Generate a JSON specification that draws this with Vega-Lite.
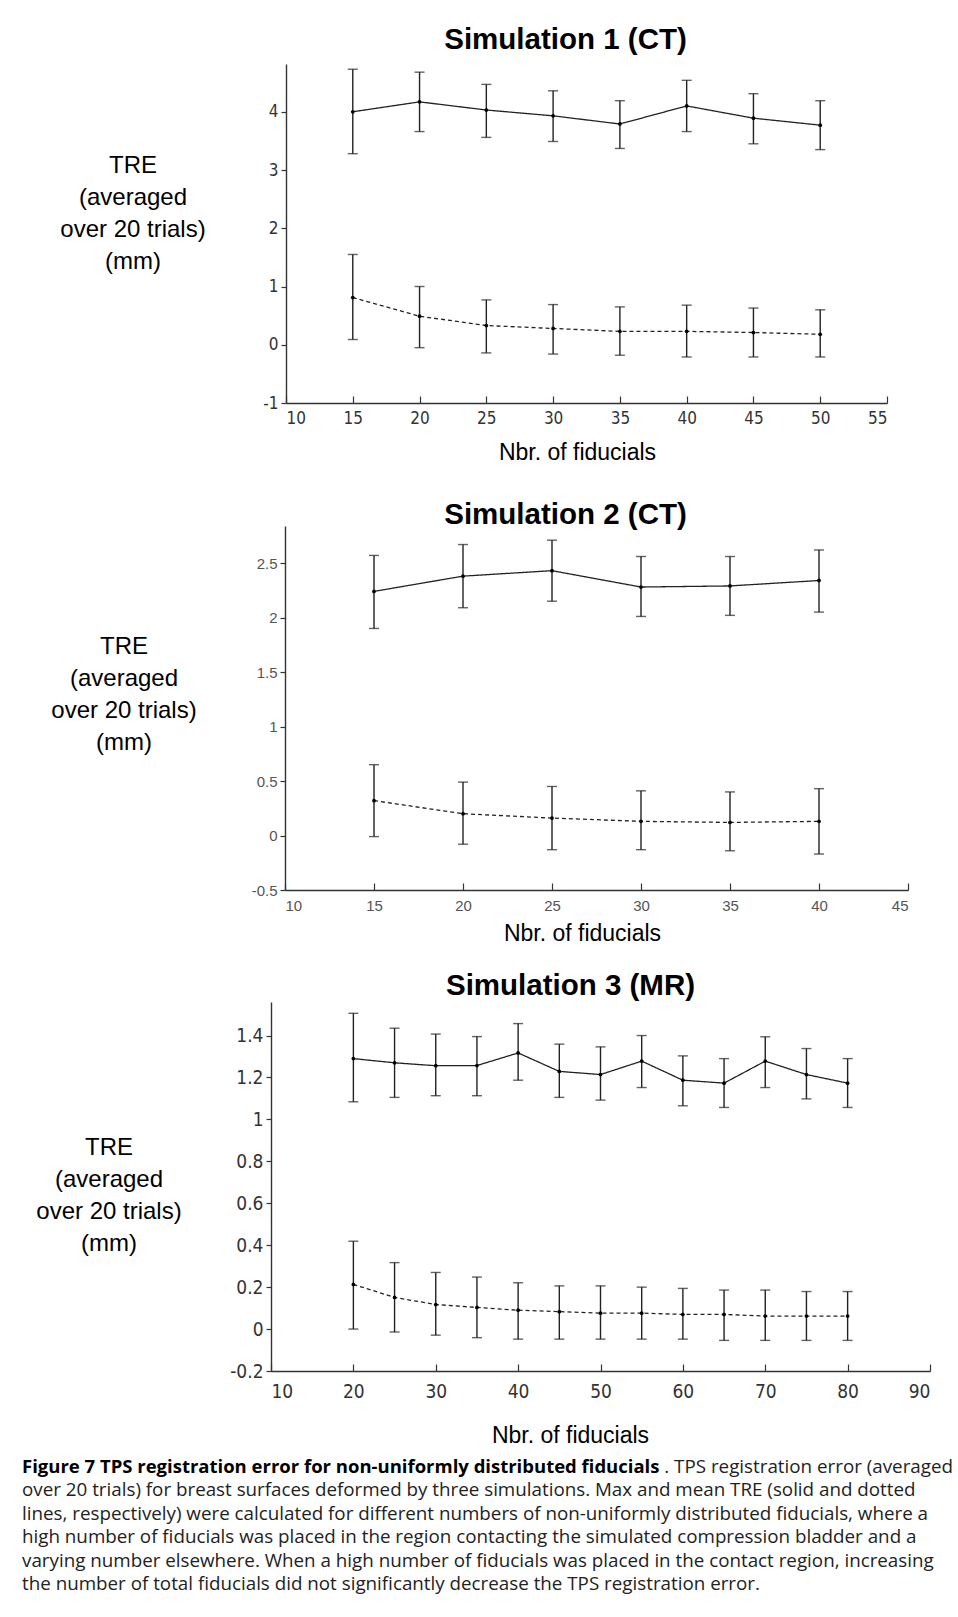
{
  "$schema": "https://vega.github.io/schema/vega-lite/v6.json",
  "background": "white",
  "padding": {"left": 22, "top": 25, "right": 0, "bottom": 0},
  "config": {
    "view": {"stroke": null},
    "font": "Liberation Sans",
    "axis": {
      "grid": false,
      "domainColor": "#333333",
      "domainWidth": 1.4,
      "tickColor": "#333333",
      "tickWidth": 1.2,
      "labelColor": "#333333",
      "labelFont": "Liberation Sans Narrow, DejaVu Sans Condensed, sans-serif",
      "labelFontSize": 17,
      "titleFont": "Liberation Sans",
      "titleFontWeight": "normal",
      "titleColor": "black",
      "titleFontSize": 23
    },
    "title": {"font": "Liberation Sans", "fontSize": 29.5, "fontWeight": "bold", "color": "black"}
  },
  "datasets": {
    "tre": [
      {"sim": 1, "series": "max", "n": 15, "tre": 4.00, "lo": 3.28, "hi": 4.73},
      {"sim": 1, "series": "max", "n": 20, "tre": 4.17, "lo": 3.66, "hi": 4.68},
      {"sim": 1, "series": "max", "n": 25, "tre": 4.03, "lo": 3.56, "hi": 4.47},
      {"sim": 1, "series": "max", "n": 30, "tre": 3.93, "lo": 3.49, "hi": 4.36},
      {"sim": 1, "series": "max", "n": 35, "tre": 3.79, "lo": 3.37, "hi": 4.19},
      {"sim": 1, "series": "max", "n": 40, "tre": 4.10, "lo": 3.66, "hi": 4.54},
      {"sim": 1, "series": "max", "n": 45, "tre": 3.89, "lo": 3.45, "hi": 4.31},
      {"sim": 1, "series": "max", "n": 50, "tre": 3.77, "lo": 3.35, "hi": 4.19},
      {"sim": 1, "series": "mean", "n": 15, "tre": 0.81, "lo": 0.09, "hi": 1.55},
      {"sim": 1, "series": "mean", "n": 20, "tre": 0.49, "lo": -0.05, "hi": 1.00},
      {"sim": 1, "series": "mean", "n": 25, "tre": 0.33, "lo": -0.14, "hi": 0.77},
      {"sim": 1, "series": "mean", "n": 30, "tre": 0.28, "lo": -0.16, "hi": 0.69},
      {"sim": 1, "series": "mean", "n": 35, "tre": 0.23, "lo": -0.18, "hi": 0.65},
      {"sim": 1, "series": "mean", "n": 40, "tre": 0.23, "lo": -0.21, "hi": 0.68},
      {"sim": 1, "series": "mean", "n": 45, "tre": 0.21, "lo": -0.21, "hi": 0.63},
      {"sim": 1, "series": "mean", "n": 50, "tre": 0.18, "lo": -0.21, "hi": 0.60},
      {"sim": 2, "series": "max", "n": 15, "tre": 2.24, "lo": 1.90, "hi": 2.57},
      {"sim": 2, "series": "max", "n": 20, "tre": 2.38, "lo": 2.09, "hi": 2.67},
      {"sim": 2, "series": "max", "n": 25, "tre": 2.43, "lo": 2.15, "hi": 2.71},
      {"sim": 2, "series": "max", "n": 30, "tre": 2.28, "lo": 2.01, "hi": 2.56},
      {"sim": 2, "series": "max", "n": 35, "tre": 2.29, "lo": 2.02, "hi": 2.56},
      {"sim": 2, "series": "max", "n": 40, "tre": 2.34, "lo": 2.05, "hi": 2.62},
      {"sim": 2, "series": "mean", "n": 15, "tre": 0.32, "lo": -0.01, "hi": 0.65},
      {"sim": 2, "series": "mean", "n": 20, "tre": 0.20, "lo": -0.08, "hi": 0.49},
      {"sim": 2, "series": "mean", "n": 25, "tre": 0.16, "lo": -0.13, "hi": 0.45},
      {"sim": 2, "series": "mean", "n": 30, "tre": 0.13, "lo": -0.13, "hi": 0.41},
      {"sim": 2, "series": "mean", "n": 35, "tre": 0.12, "lo": -0.14, "hi": 0.40},
      {"sim": 2, "series": "mean", "n": 40, "tre": 0.13, "lo": -0.17, "hi": 0.43},
      {"sim": 3, "series": "max", "n": 20, "tre": 1.290, "lo": 1.084, "hi": 1.506},
      {"sim": 3, "series": "max", "n": 25, "tre": 1.270, "lo": 1.105, "hi": 1.435},
      {"sim": 3, "series": "max", "n": 30, "tre": 1.256, "lo": 1.113, "hi": 1.407},
      {"sim": 3, "series": "max", "n": 35, "tre": 1.257, "lo": 1.113, "hi": 1.395},
      {"sim": 3, "series": "max", "n": 40, "tre": 1.317, "lo": 1.187, "hi": 1.457},
      {"sim": 3, "series": "max", "n": 45, "tre": 1.229, "lo": 1.105, "hi": 1.359},
      {"sim": 3, "series": "max", "n": 50, "tre": 1.214, "lo": 1.092, "hi": 1.346},
      {"sim": 3, "series": "max", "n": 55, "tre": 1.278, "lo": 1.152, "hi": 1.400},
      {"sim": 3, "series": "max", "n": 60, "tre": 1.187, "lo": 1.065, "hi": 1.303},
      {"sim": 3, "series": "max", "n": 65, "tre": 1.173, "lo": 1.057, "hi": 1.290},
      {"sim": 3, "series": "max", "n": 70, "tre": 1.278, "lo": 1.152, "hi": 1.394},
      {"sim": 3, "series": "max", "n": 75, "tre": 1.214, "lo": 1.098, "hi": 1.338},
      {"sim": 3, "series": "max", "n": 80, "tre": 1.173, "lo": 1.057, "hi": 1.290},
      {"sim": 3, "series": "mean", "n": 20, "tre": 0.213, "lo": 0.000, "hi": 0.419},
      {"sim": 3, "series": "mean", "n": 25, "tre": 0.151, "lo": -0.014, "hi": 0.317},
      {"sim": 3, "series": "mean", "n": 30, "tre": 0.117, "lo": -0.029, "hi": 0.270},
      {"sim": 3, "series": "mean", "n": 35, "tre": 0.103, "lo": -0.041, "hi": 0.248},
      {"sim": 3, "series": "mean", "n": 40, "tre": 0.090, "lo": -0.048, "hi": 0.221},
      {"sim": 3, "series": "mean", "n": 45, "tre": 0.083, "lo": -0.048, "hi": 0.206},
      {"sim": 3, "series": "mean", "n": 50, "tre": 0.076, "lo": -0.048, "hi": 0.206},
      {"sim": 3, "series": "mean", "n": 55, "tre": 0.076, "lo": -0.048, "hi": 0.200},
      {"sim": 3, "series": "mean", "n": 60, "tre": 0.070, "lo": -0.048, "hi": 0.194},
      {"sim": 3, "series": "mean", "n": 65, "tre": 0.070, "lo": -0.054, "hi": 0.186},
      {"sim": 3, "series": "mean", "n": 70, "tre": 0.062, "lo": -0.054, "hi": 0.186},
      {"sim": 3, "series": "mean", "n": 75, "tre": 0.062, "lo": -0.054, "hi": 0.179},
      {"sim": 3, "series": "mean", "n": 80, "tre": 0.062, "lo": -0.054, "hi": 0.179}
    ],
    "ylabel": [
      {"label": ["TRE", "(averaged", "over 20 trials)", "(mm)"]}
    ],
    "caption": [
      {"line": 1, "part": "head", "text": "Figure 7 TPS registration error for non-uniformly distributed fiducials"},
      {"line": 1, "part": "tail", "text": ". TPS registration error (averaged"},
      {"line": 2, "part": "body", "text": "over 20 trials) for breast surfaces deformed by three simulations. Max and mean TRE (solid and dotted"},
      {"line": 3, "part": "body", "text": "lines, respectively) were calculated for different numbers of non-uniformly distributed fiducials, where a"},
      {"line": 4, "part": "body", "text": "high number of fiducials was placed in the region contacting the simulated compression bladder and a"},
      {"line": 5, "part": "body", "text": "varying number elsewhere. When a high number of fiducials was placed in the contact region, increasing"},
      {"line": 6, "part": "body", "text": "the number of total fiducials did not significantly decrease the TPS registration error."}
    ]
  },
  "align": "none",
  "spacing": 35,
  "vconcat": [
    {
      "hconcat": [
        {
          "width": 222, "height": 339,
          "data": {"name": "ylabel"},
          "mark": {"type": "text", "align": "center", "baseline": "middle", "font": "Liberation Sans", "fontSize": 24, "lineHeight": 32, "dy": -68, "color": "black"},
          "encoding": {"text": {"field": "label", "type": "nominal"}}
        },
        {
          "title": {"text": "Simulation 1 (CT)", "dx": -21, "offset": 8.5},
          "width": 601,
          "height": 339,
          "data": {"name": "tre"},
          "transform": [{"filter": "datum.sim == 1"}],
          "encoding": {
            "x": {"field": "n", "type": "quantitative",
              "scale": {"domain": [10, 55], "nice": false, "zero": false},
              "axis": {"values": [10, 15, 20, 25, 30, 35, 40, 45, 50, 55], "labelExpr": "'' + datum.value", "tickSize": -7, "labelPadding": 14,
                "title": "Nbr. of fiducials", "titleX": 291, "titleY": 49, "titleAlign": "center", "titleBaseline": "middle"}},
            "y": {"field": "tre", "type": "quantitative",
              "scale": {"domain": [-1, 4.82], "nice": false, "zero": false},
              "axis": {"values": [-1, 0, 1, 2, 3, 4], "labelExpr": "'' + datum.value", "tickSize": 5, "labelPadding": 3, "title": null}}
          },
          "layer": [
            {"mark": {"type": "errorbar", "ticks": {"size": 10, "color": "#222222"}, "thickness": 1.4, "color": "#222222"},
              "encoding": {"y": {"field": "lo", "type": "quantitative"}, "y2": {"field": "hi"}}},
            {"mark": {"type": "line", "color": "#222222", "strokeWidth": 1.3},
              "encoding": {"strokeDash": {"field": "series", "type": "nominal", "scale": {"domain": ["max", "mean"], "range": [[1, 0], [4, 3]]}, "legend": null}}},
            {"mark": {"type": "point", "filled": true, "size": 14, "color": "black", "opacity": 1}}
          ]
        }
      ],
      "spacing": 42,
      "bounds": "flush"
    },
    {
      "align": "none",
      "spacing": 24,
      "vconcat": [
        {
          "hconcat": [
            {
              "width": 204, "height": 364,
              "data": {"name": "ylabel"},
              "mark": {"type": "text", "align": "center", "baseline": "middle", "font": "Liberation Sans", "fontSize": 24, "lineHeight": 32, "dy": -61, "color": "black"},
              "encoding": {"text": {"field": "label", "type": "nominal"}}
            },
            {
              "title": {"text": "Simulation 2 (CT)", "dx": -31, "offset": -4},
              "width": 623,
              "height": 364,
              "data": {"name": "tre"},
              "transform": [{"filter": "datum.sim == 2"}],
              "encoding": {
                "x": {"field": "n", "type": "quantitative",
                  "scale": {"domain": [10, 45], "nice": false, "zero": false},
                  "axis": {"values": [10, 15, 20, 25, 30, 35, 40, 45], "labelExpr": "'' + datum.value", "tickSize": -7, "labelPadding": 15,
                    "labelFont": "Liberation Sans", "labelFontSize": 15, "labelColor": "#555555",
                    "title": "Nbr. of fiducials", "titleX": 297, "titleY": 43.5, "titleAlign": "center", "titleBaseline": "middle"}},
                "y": {"field": "tre", "type": "quantitative",
                  "scale": {"domain": [-0.5, 2.84], "nice": false, "zero": false},
                  "axis": {"values": [-0.5, 0, 0.5, 1, 1.5, 2, 2.5], "labelExpr": "'' + datum.value", "tickSize": 5, "labelPadding": 3,
                    "labelFont": "Liberation Sans", "labelFontSize": 15, "labelColor": "#555555", "title": null}}
              },
              "layer": [
                {"mark": {"type": "errorbar", "ticks": {"size": 10, "color": "#222222"}, "thickness": 1.4, "color": "#222222"},
                  "encoding": {"y": {"field": "lo", "type": "quantitative"}, "y2": {"field": "hi"}}},
                {"mark": {"type": "line", "color": "#222222", "strokeWidth": 1.3},
                  "encoding": {"strokeDash": {"field": "series", "type": "nominal", "scale": {"domain": ["max", "mean"], "range": [[1, 0], [4, 3]]}, "legend": null}}},
                {"mark": {"type": "point", "filled": true, "size": 14, "color": "black", "opacity": 1}}
              ]
            }
          ],
          "spacing": 59,
          "bounds": "flush"
        },
        {
          "align": "none",
          "spacing": 8,
          "vconcat": [
            {
              "hconcat": [
                {
                  "width": 174, "height": 369,
                  "data": {"name": "ylabel"},
                  "mark": {"type": "text", "align": "center", "baseline": "middle", "font": "Liberation Sans", "fontSize": 24, "lineHeight": 32, "dy": -39, "color": "black"},
                  "encoding": {"text": {"field": "label", "type": "nominal"}}
                },
                {
                  "title": {"text": "Simulation 3 (MR)", "dx": -30, "offset": 1},
                  "width": 659,
                  "height": 369,
                  "data": {"name": "tre"},
                  "transform": [{"filter": "datum.sim == 3"}],
                  "encoding": {
                    "x": {"field": "n", "type": "quantitative",
                      "scale": {"domain": [10, 90], "nice": false, "zero": false},
                      "axis": {"values": [10, 20, 30, 40, 50, 60, 70, 80, 90], "labelExpr": "'' + datum.value", "tickSize": -7, "labelPadding": 18, "labelFontSize": 19,
                        "title": "Nbr. of fiducials", "titleX": 299, "titleY": 64, "titleAlign": "center", "titleBaseline": "middle"}},
                    "y": {"field": "tre", "type": "quantitative",
                      "scale": {"domain": [-0.2, 1.56], "nice": false, "zero": false},
                      "axis": {"values": [-0.2, 0, 0.2, 0.4, 0.6, 0.8, 1, 1.2, 1.4], "labelExpr": "'' + datum.value", "tickSize": 5, "labelPadding": 3, "labelFontSize": 19, "title": null}}
                  },
                  "layer": [
                    {"mark": {"type": "errorbar", "ticks": {"size": 10, "color": "#222222"}, "thickness": 1.4, "color": "#222222"},
                      "encoding": {"y": {"field": "lo", "type": "quantitative"}, "y2": {"field": "hi"}}},
                    {"mark": {"type": "line", "color": "#222222", "strokeWidth": 1.3},
                      "encoding": {"strokeDash": {"field": "series", "type": "nominal", "scale": {"domain": ["max", "mean"], "range": [[1, 0], [4, 3]]}, "legend": null}}},
                    {"mark": {"type": "point", "filled": true, "size": 14, "color": "black", "opacity": 1}}
                  ]
                }
              ],
              "spacing": 75,
              "bounds": "flush"
            },
            {
              "width": 931,
              "height": 141,
              "data": {"name": "caption"},
              "encoding": {
                "y": {"field": "line", "type": "ordinal", "axis": null, "scale": {"type": "point", "padding": 0.5}}
              },
              "layer": [
                {"transform": [{"filter": "datum.part == 'head'"}],
                  "mark": {"type": "text", "align": "left", "baseline": "middle", "font": "Open Sans", "fontWeight": "bold", "fontSize": 18.5, "color": "black"},
                  "encoding": {"x": {"datum": 0, "type": "quantitative", "scale": {"domain": [0, 1]}, "axis": null}, "text": {"field": "text"}}},
                {"transform": [{"filter": "datum.part == 'tail'"}],
                  "mark": {"type": "text", "align": "right", "baseline": "middle", "font": "Open Sans", "fontSize": 18.8, "color": "#222222"},
                  "encoding": {"x": {"datum": 1, "type": "quantitative"}, "text": {"field": "text"}}},
                {"transform": [{"filter": "datum.part == 'body'"}],
                  "mark": {"type": "text", "align": "left", "baseline": "middle", "font": "Open Sans", "fontSize": 18.8, "color": "#222222"},
                  "encoding": {"x": {"datum": 0, "type": "quantitative"}, "text": {"field": "text"}}}
              ]
            }
          ]
        }
      ]
    }
  ]
}
